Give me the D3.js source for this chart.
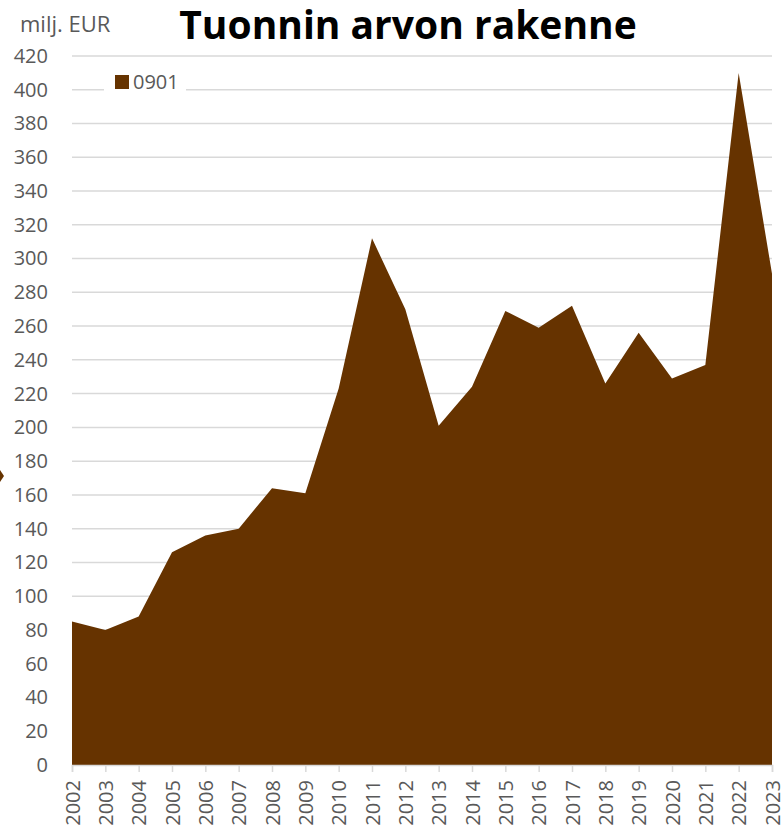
<!DOCTYPE html>
<html>
<head>
<meta charset="utf-8">
<script src="https://cdn.jsdelivr.net/npm/d3@7"></script>
<style>
  body { margin: 0; background: #fff; }
  svg { display: block; font-family: "Open Sans", "Noto Sans", sans-serif; }
</style>
</head>
<body>
<div id="chart"></div>
<script>
const years = ["2002","2003","2004","2005","2006","2007","2008","2009","2010","2011","2012",
               "2013","2014","2015","2016","2017","2018","2019","2020","2021","2022","2023"];
const values = [85, 80, 88, 126, 136, 140, 164, 161, 223, 312, 270,
                201, 224, 269, 259, 272, 226, 256, 229, 237, 410, 291];
const yTicks = d3.range(0, 421, 20);
const seriesName = "0901";

const width = 781, height = 832;
const margin = {top: 56, right: 9, bottom: 67, left: 72};
const fill = "#663300";
const textColor = "#595959";

let svg = d3.select("#chart")
    .append("svg")
    .attr("width", width)
    .attr("height", height);

let x = d3.scalePoint()
    .domain(years)
    .range([margin.left, width - margin.right]);

let y = d3.scaleLinear()
    .domain([0, 420])
    .range([height - margin.bottom, margin.top]);

// gridlines
svg.append("g")
    .selectAll("line")
    .data(yTicks.filter(d => d > 0))
    .enter()
    .append("line")
    .attr("x1", margin.left)
    .attr("x2", width - margin.right)
    .attr("y1", d => y(d))
    .attr("y2", d => y(d))
    .attr("stroke", "#d9d9d9")
    .attr("stroke-width", 1.5);

// area
let area = d3.area()
    .x((d, i) => x(years[i]))
    .y0(y(0))
    .y1(d => y(d));

svg.append("path")
    .datum(values)
    .attr("fill", fill)
    .attr("d", area);

// y axis labels
svg.append("g")
    .attr("transform", `translate(${margin.left},0)`)
    .call(d3.axisLeft(y).tickValues(yTicks).tickSize(0).tickPadding(24))
    .call(g => g.select(".domain").remove())
    .selectAll("text")
    .attr("fill", textColor)
    .style("font-size", "20px")
    .style("font-family", "'Open Sans', sans-serif");

// x axis
let xAxis = svg.append("g")
    .attr("transform", `translate(0,${y(0)})`)
    .call(d3.axisBottom(x).tickSize(7).tickPadding(10));

xAxis.select(".domain").attr("stroke", "#d9d9d9").attr("stroke-width", 1.5);
xAxis.selectAll(".tick line").attr("stroke", "#d9d9d9").attr("stroke-width", 1.5);
xAxis.selectAll("text")
    .attr("fill", textColor)
    .style("font-size", "20px")
    .style("font-family", "'Open Sans', sans-serif")
    .attr("transform", "rotate(-90)")
    .attr("dy", "0.35em")
    .attr("x", -15)
    .attr("y", 0)
    .style("text-anchor", "end");

// legend
let legend = svg.append("g").attr("transform", "translate(104,68)");
legend.append("rect")
    .attr("width", 82).attr("height", 28)
    .attr("fill", "#fff");
legend.append("rect")
    .attr("x", 11).attr("y", 7)
    .attr("width", 14).attr("height", 14)
    .attr("fill", fill);
legend.append("text")
    .attr("x", 29).attr("y", 21)
    .attr("fill", textColor)
    .style("font-size", "20px")
    .text(seriesName);

// unit label
svg.append("text")
    .attr("x", 20).attr("y", 32)
    .attr("fill", textColor)
    .style("font-size", "22px")
    .text("milj. EUR");

// title
svg.append("text")
    .attr("x", 408).attr("y", 39)
    .style("text-anchor", "middle")
    .style("font-size", "39px")
    .style("font-weight", "bold")
    .attr("fill", "#000")
    .text("Tuonnin arvon rakenne");

// small marker at left edge
svg.append("path")
    .attr("d", "M0,470 L4,476 L0,482 Z")
    .attr("fill", fill);
</script>
</body>
</html>
